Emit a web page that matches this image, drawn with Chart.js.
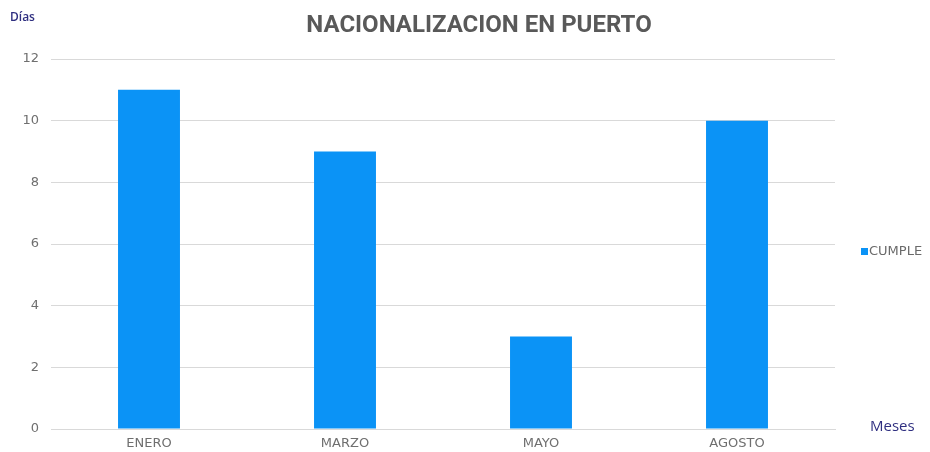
<!DOCTYPE html>
<html>
<head>
<meta charset="utf-8">
<script src="https://cdn.jsdelivr.net/npm/chart.js@4.4.1/dist/chart.umd.min.js"></script>
<style>
    html, body { margin: 0; padding: 0; background: #fff; }
    #wrap { width: 930px; height: 452px; position: relative; }
</style>
</head>
<body>
<div id="wrap"><canvas id="chart" width="930" height="452"></canvas></div>
<script>
const months = ["ENERO", "MARZO", "MAYO", "AGOSTO"];
const cumple = [11, 9, 3, 10];
const yTicks = [0, 2, 4, 6, 8, 10, 12];

const BAR_COLOR = "#0b93f6";
const TICK_FONT = "'DejaVu Sans', sans-serif";

// title, axis names and legend drawn on the canvas
const labelsPlugin = {
    id: "labels",
    afterDraw(chart) {
        const ctx = chart.ctx;
        ctx.save();
        ctx.textBaseline = "middle";

        ctx.fillStyle = "#595959";
        ctx.font = "bold 24px Roboto, 'Noto Sans', sans-serif";
        ctx.textAlign = "center";
        ctx.fillText("NACIONALIZACION EN PUERTO", 479, 26);

        ctx.fillStyle = "#2f2f80";
        ctx.font = "600 12px 'Open Sans', 'Noto Sans', sans-serif";
        ctx.textAlign = "left";
        ctx.fillText("Días", 10, 18);

        ctx.font = "15px 'Open Sans', 'Noto Sans', sans-serif";
        ctx.fillText("Meses", 870, 427);

        ctx.fillStyle = BAR_COLOR;
        ctx.fillRect(861, 248, 7, 7);
        ctx.fillStyle = "#6a6a6a";
        ctx.font = "13px " + TICK_FONT;
        ctx.fillText("CUMPLE", 869, 252);
        ctx.restore();
    }
};

new Chart(document.getElementById("chart"), {
    type: "bar",
    data: {
        labels: months,
        datasets: [{
            label: "CUMPLE",
            data: cumple,
            backgroundColor: BAR_COLOR,
            borderWidth: 0,
            barPercentage: 0.316,
            categoryPercentage: 1,
        }]
    },
    plugins: [labelsPlugin],
    options: {
        responsive: false,
        animation: false,
        layout: { padding: { top: 59, right: 95, left: 0, bottom: 0 } },
        plugins: {
            legend: { display: false },
            title: { display: false },
            tooltip: { enabled: false },
        },
        scales: {
            x: {
                grid: { display: false, drawTicks: false },
                border: { display: true, color: "#d9d9d9", width: 1 },
                ticks: {
                    color: "#6f6f6f",
                    padding: 7,
                    font: { size: 13, family: TICK_FONT },
                    maxRotation: 0,
                },
                afterFit(scale) { scale.height = 23; },
            },
            y: {
                min: 0,
                max: 12,
                afterBuildTicks(scale) { scale.ticks = yTicks.map(v => ({ value: v })); },
                grid: { color: "#d9d9d9", drawTicks: false },
                border: { display: false },
                ticks: {
                    color: "#6f6f6f",
                    padding: 12,
                    font: { size: 13, family: TICK_FONT },
                },
                afterFit(scale) { scale.width = 51; },
            }
        }
    }
});
</script>
</body>
</html>
